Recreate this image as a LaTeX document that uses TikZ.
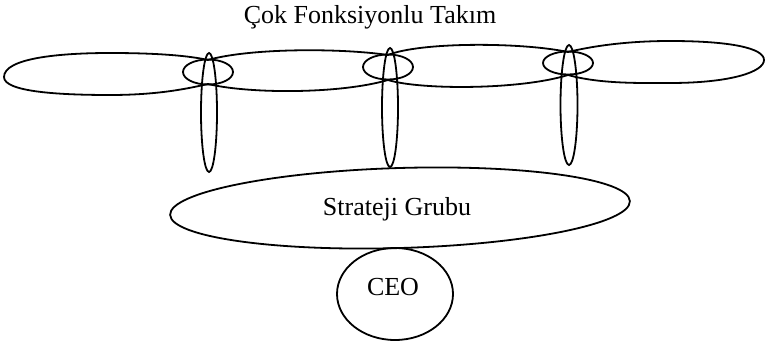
\documentclass[tikz,border=0pt]{standalone}
\usepackage{fontspec}
\setmainfont{Liberation Serif}
\usetikzlibrary{shapes.geometric}
\begin{document}
\begin{tikzpicture}[x=1pt,y=-1pt,
  ln/.style={line width=1.8pt},
  oval/.style={ln,draw,ellipse,inner sep=0pt},
  lbl/.style={font=\fontsize{26}{31}\selectfont,anchor=base,inner sep=0pt}]
\useasboundingbox (0,0) rectangle (767,350);

% title
\node[lbl] (title) at (370,24) {Çok Fonksiyonlu Takım};

% chain of team lobes: upper and lower outlines
\draw[ln] (4,77) .. controls (4,58) and (60,53) .. (110,53)
  .. controls (160,53) and (190,56) .. (208,60)
  .. controls (250,48) and (340,48) .. (388,55)
  .. controls (420,42) and (520,42) .. (568,52)
  .. controls (610,42) and (650,41) .. (670,41)
  .. controls (730,41) and (764,48) .. (764,60);
\draw[ln] (4,77) .. controls (4,92) and (60,95) .. (110,95)
  .. controls (160,95) and (190,88) .. (208,84)
  .. controls (250,94) and (340,94) .. (388,80)
  .. controls (420,90) and (520,90) .. (568,75)
  .. controls (600,84) and (640,83) .. (670,83)
  .. controls (730,83) and (764,72) .. (764,60);

% small rings at the joints
\node[oval,minimum width=50,minimum height=25] (r1) at (208,72) {};
\node[oval,minimum width=50,minimum height=25] (r2) at (388,67) {};
\node[oval,minimum width=50,minimum height=23] (r3) at (568,63) {};

% vertical links
\node[oval,minimum width=16,minimum height=119] (v1) at (209,112.5) {};
\node[oval,minimum width=16,minimum height=119] (v2) at (390,107.5) {};
\node[oval,minimum width=17,minimum height=120] (v3) at (569,105) {};

% strategy group
\node[oval,minimum width=460,minimum height=80,rotate=1.7] (sg) at (400,208) {};
\node[lbl] (sgt) at (397,215) {Strateji Grubu};

% CEO
\node[oval,minimum width=116,minimum height=92] (ceo) at (395,294) {};
\node[lbl] (ceot) at (393,295) {CEO};
\end{tikzpicture}
\end{document}
